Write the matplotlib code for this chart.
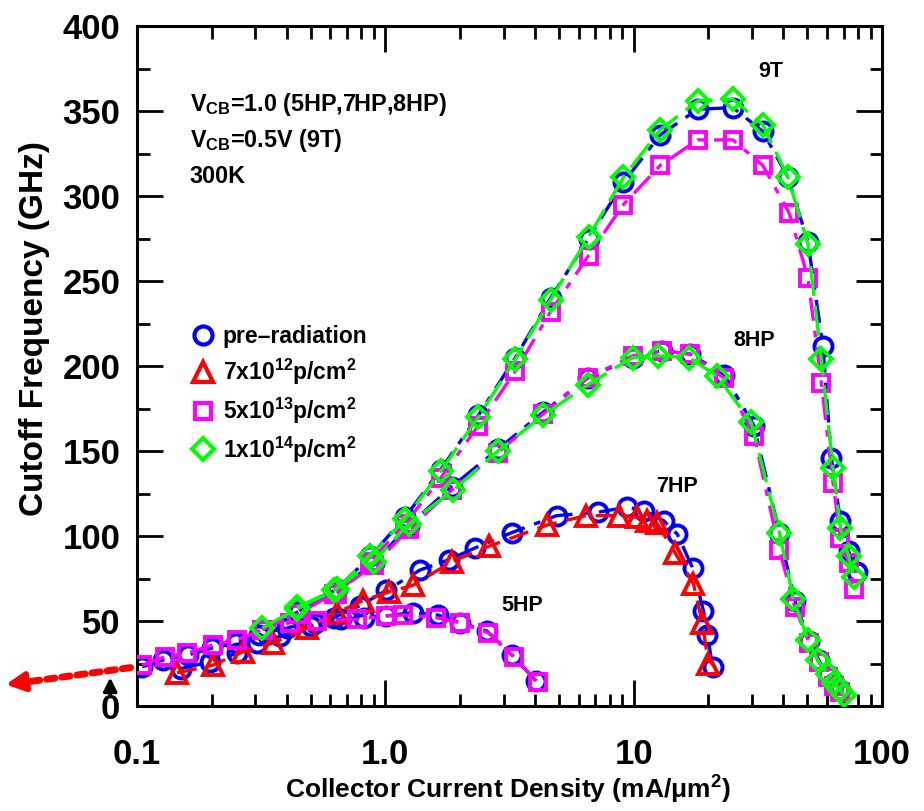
import numpy as np
import matplotlib
matplotlib.use("Agg")
import matplotlib.pyplot as plt
from matplotlib.lines import Line2D

FONT = ["Liberation Sans", "DejaVu Sans"]
plt.rcParams["font.family"] = FONT
plt.rcParams["mathtext.default"] = "regular"

# ---- data ----
# 5HP
hp5_pre_x = [0.105, 0.127, 0.16, 0.2, 0.25, 0.31, 0.4, 0.52, 0.66, 0.82, 1.01, 1.29, 1.63, 2.0, 2.57, 3.23, 4.03]
hp5_pre_y = [23, 27, 30, 34, 37, 42, 46, 49, 51, 52, 53, 55, 53.5, 49, 44, 30, 15]
hp5_5e13_x = [0.105, 0.13, 0.159, 0.202, 0.253, 0.322, 0.414, 0.53, 0.77, 1.01, 1.18, 1.6, 2.0, 2.6, 3.3, 4.1]
hp5_5e13_y = [24, 29, 31, 36, 39, 45, 49, 50, 51, 53, 53.5, 52, 49, 43, 29, 14]

# 7HP
hp7_pre_x = [0.15, 0.197, 0.253, 0.305, 0.377, 0.5, 0.62, 0.79, 1.01, 1.38, 1.8, 2.3, 3.23, 4.9, 7.2,
             9.4, 11.0, 13.2, 15.0, 17.3, 19.1, 19.8, 20.8]
hp7_pre_y = [22, 26, 31, 37, 41, 47, 52, 59, 68, 80, 86, 93, 102, 112, 114,
             117, 115, 109, 101, 81, 56, 42, 23]
hp7_7e12_x = [0.145, 0.202, 0.268, 0.353, 0.484, 0.64, 0.81, 1.03, 1.29, 1.86, 2.62, 4.49, 6.43,
              8.7, 10.3, 11.3, 12.4, 14.7, 17.4, 18.9, 20.0]
hp7_7e12_y = [19.5, 24, 32, 37, 46, 55, 62, 67, 71, 85, 94, 106.5, 112,
              112, 111, 109, 107.5, 90, 72, 49, 25]

# 8HP
hp8_pre_x = [0.32, 0.44, 0.62, 0.9, 1.24, 1.85, 2.84, 4.33, 6.54, 9.9, 13.0, 16.9, 23.1, 30.5,
             38.6, 44.6, 51, 55.6, 60.5, 64, 68]
hp8_pre_y = [45, 55, 67, 84, 106, 129, 151, 173, 193, 205, 209, 207, 195, 165,
             102, 62, 38, 27, 18, 13.5, 9.5]
hp8_5e13_x = hp8_pre_x
hp8_5e13_y = [45, 54, 66, 83, 104, 127, 149, 172, 193, 206, 209, 207, 193, 159,
              92, 58, 37, 26, 17, 12, 8]
hp8_1e14_x = [0.32, 0.44, 0.62, 0.9, 1.24, 1.88, 2.84, 4.33, 6.54, 9.9, 12.5, 16.7, 21.7, 29.7,
              38.6, 44.0, 50.3, 55.0, 60.5, 64, 68, 70]
hp8_1e14_y = [46, 57, 68, 85, 107, 127, 150, 171, 189, 205, 206, 205, 194, 167,
              102, 63, 39, 27, 19, 13.5, 9.5, 6.5]

# 9T
t9_pre_x = [0.45, 0.64, 0.87, 1.2, 1.67, 2.37, 3.34, 4.63, 6.58, 9.1, 12.8, 18.1, 25.1, 33.1,
            41.8, 50.3, 57.8, 62.5, 68, 73.4, 79]
t9_pre_y = [56, 69, 88, 111, 139, 171, 205, 240, 275, 308, 336, 351, 352, 338,
            311, 273, 212, 146, 109, 91, 79]
t9_5e13_x = [0.64, 0.87, 1.2, 1.67, 2.37, 3.34, 4.63, 6.58, 9.1, 12.8, 18.1, 25.1, 33.1,
             42.3, 50.3, 57, 63.5, 68, 73.4, 77]
t9_5e13_y = [66, 85, 107, 134, 165, 197, 232, 265, 295, 318, 333, 333, 318,
             290, 252, 190, 131, 99, 84, 69]
t9_1e14_x = [0.44, 0.64, 0.87, 1.2, 1.67, 2.37, 3.34, 4.63, 6.58, 9.1, 12.8, 18.1, 25.1, 33.1,
             41.8, 50.3, 57, 63.5, 68, 73.4, 77]
t9_1e14_y = [58, 69, 88, 110, 138, 170, 204, 239, 276, 311, 339, 356, 357, 342,
             311, 272, 204, 140, 105, 88, 76]

legend_labels = ["pre\u2013radiation", "7x10$^{12}$p/cm$^{2}$",
                 "5x10$^{13}$p/cm$^{2}$", "1x10$^{14}$p/cm$^{2}$"]
device_labels = ["5HP", "7HP", "8HP", "9T"]
device_label_pos = [(3.56, 59), (15.0, 129), (30.5, 215), (35.6, 373)]

# ---- styles ----
styles = {
    "pre": dict(color="#0000ff", marker="o", ls=(0, (7, 3, 2, 3)), ms=13, z=2),
    "7e12": dict(color="#ff0000", marker="^", ls=(0, (6, 3)), ms=14, z=3),
    "5e13": dict(color="#ff00ff", marker="s", ls=(0, (7, 3, 2, 3)), ms=12, z=4),
    "1e14": dict(color="#00ff00", marker="D", ls=(0, (9, 3)), ms=11, z=5),
}

fig = plt.figure(figsize=(9.24, 8.11), dpi=100)
ax = fig.add_axes([137 / 924, 1 - 706 / 811, 745 / 924, 680 / 811])


def draw(x, y, key):
    s = styles[key]
    ax.plot(x, y, color=s["color"], ls=s["ls"], lw=2.4, marker=s["marker"],
            ms=s["ms"], mfc="none", mec=s["color"], mew=2.8, zorder=s["z"])


draw(hp5_pre_x, hp5_pre_y, "pre")
draw(hp7_pre_x, hp7_pre_y, "pre")
draw(hp8_pre_x, hp8_pre_y, "pre")
draw(t9_pre_x, t9_pre_y, "pre")
draw(hp7_7e12_x, hp7_7e12_y, "7e12")
draw(hp5_5e13_x, hp5_5e13_y, "5e13")
draw(hp8_5e13_x, hp8_5e13_y, "5e13")
draw(t9_5e13_x, t9_5e13_y, "5e13")
draw(hp8_1e14_x, hp8_1e14_y, "1e14")
draw(t9_1e14_x, t9_1e14_y, "1e14")

ax.set_xscale("log")
ax.set_xlim(0.1, 100)
ax.set_ylim(0, 400)
ax.set_xticks([0.1, 1, 10, 100])
ax.set_xticklabels(["0.1", "1.0", "10", "100"])
ax.set_yticks(np.arange(0, 401, 50))
ax.set_yticks(np.arange(25, 400, 50), minor=True)
for sp in ax.spines.values():
    sp.set_linewidth(2.2)
ax.tick_params(which="both", direction="in", top=True, right=True, width=2.0)
ax.tick_params(which="major", length=19)
ax.tick_params(which="minor", length=9)
ax.tick_params(axis="x", which="major", pad=23)
ax.tick_params(axis="y", which="major", pad=12)
for lab in ax.get_xticklabels() + ax.get_yticklabels():
    lab.set_fontsize(25)
    lab.set_fontweight("bold")

fig.text(508 / 924, 1 - 790 / 811, "Collector Current Density (mA/\u03bcm$^{2}$)",
         ha="center", va="center", fontsize=19, fontweight="bold")
fig.text(35 / 924, 1 - 329 / 811, "Cutoff Frequency (GHz)", rotation=90,
         ha="center", va="center", fontsize=24, fontweight="bold")

# conditions text
cond = ["V$_{CB}$=1.0 (5HP,7HP,8HP)", "V$_{CB}$=0.5V (9T)", "300K"]
for i, t in enumerate(cond):
    ax.text(0.071, 0.884 - i * 0.053, t, transform=ax.transAxes, ha="left",
            va="center", fontsize=16.8, fontweight="bold")

for lab, (lx, ly) in zip(device_labels, device_label_pos):
    ax.text(lx, ly, lab, ha="center", va="center", fontsize=15.5, fontweight="bold")

handles = []
for key in ["pre", "7e12", "5e13", "1e14"]:
    s = styles[key]
    handles.append(Line2D([], [], ls="none", marker=s["marker"], ms=s["ms"],
                          mfc="none", mec=s["color"], mew=3))
leg = ax.legend(handles, legend_labels, loc="upper left", bbox_to_anchor=(0.058, 0.574),
                frameon=False, handletextpad=0.25, labelspacing=0.38, borderaxespad=0,
                prop=dict(size=16.5, weight="bold"), handlelength=1.2)

# arrows at the origin
ax.annotate("", xy=(-0.036, 0.046), xytext=(-0.036, 0.012), xycoords="axes fraction",
            arrowprops=dict(arrowstyle="-|>", color="black", lw=2.5, mutation_scale=20),
            annotation_clip=False)
ax.annotate("", xy=(-0.15, 0.035), xytext=(-0.005, 0.057), xycoords="axes fraction",
            arrowprops=dict(arrowstyle="-", color="red", lw=5, ls=(0, (1.2, 1.0))),
            annotation_clip=False)
ax.annotate("", xy=(-0.18, 0.031), xytext=(-0.14, 0.037), xycoords="axes fraction",
            arrowprops=dict(arrowstyle="-|>", color="red", lw=4, mutation_scale=28),
            annotation_clip=False)

fig.savefig("out.png", dpi=100)
